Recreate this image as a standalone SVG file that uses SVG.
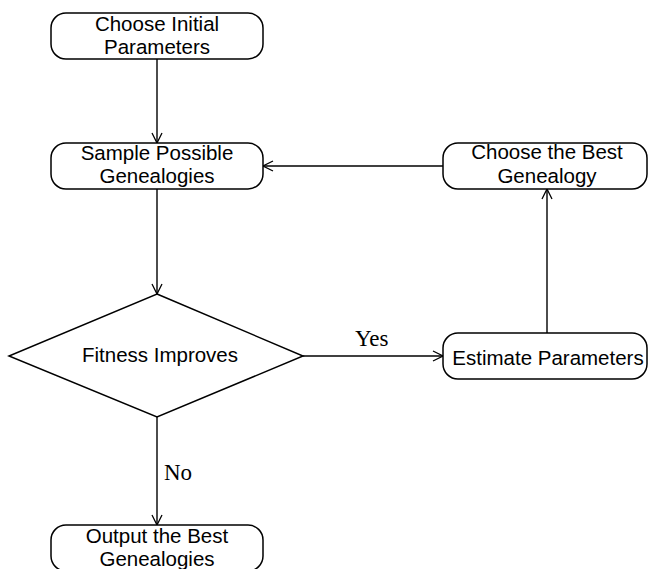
<svg xmlns="http://www.w3.org/2000/svg" width="649" height="569" viewBox="0 0 649 569">
  <defs>
    <marker id="open" markerWidth="12" markerHeight="12" refX="11" refY="6" orient="auto" markerUnits="userSpaceOnUse">
      <path d="M1,1 L11,6 L1,11" fill="none" stroke="#000" stroke-width="1.3"/>
    </marker>
  </defs>
  <style>
    .box { fill: #fff; stroke: #000; stroke-width: 1.5; }
    .lbl { font-family: "Liberation Sans", Arial, sans-serif; font-size: 20.5px; fill: #000; text-anchor: middle; }
    .edge { fill: none; stroke: #000; stroke-width: 1.4; marker-end: url(#open); }
    .elbl { font-family: "Liberation Serif", "Times New Roman", serif; font-size: 23px; fill: #000; }
  </style>
  <rect width="649" height="569" fill="#fff"/>

  <g id="connectors">
    <line class="edge" x1="157" y1="59" x2="157" y2="143"/>
    <line class="edge" x1="157" y1="189" x2="157" y2="294"/>
    <line class="edge" x1="303" y1="356" x2="443" y2="356"/>
    <line class="edge" x1="547" y1="333" x2="547" y2="189"/>
    <line class="edge" x1="443" y1="166" x2="263" y2="166"/>
    <line class="edge" x1="157" y1="417" x2="157" y2="525"/>
    <text class="elbl" x="355" y="346">Yes</text>
    <text class="elbl" x="164" y="480">No</text>
  </g>

  <g id="choose-initial">
    <rect class="box" x="51" y="13" width="212" height="46" rx="15"/>
    <text class="lbl" x="157" y="31">Choose Initial</text>
    <text class="lbl" x="157" y="54">Parameters</text>
  </g>

  <g id="sample">
    <rect class="box" x="51" y="143" width="212" height="46" rx="15"/>
    <text class="lbl" x="157" y="160">Sample Possible</text>
    <text class="lbl" x="157" y="183">Genealogies</text>
  </g>

  <g id="choose-best">
    <rect class="box" x="443" y="143" width="204" height="46" rx="15"/>
    <text class="lbl" x="547" y="159">Choose the Best</text>
    <text class="lbl" x="547" y="183">Genealogy</text>
  </g>

  <g id="fitness">
    <polygon class="box" points="157,294 303,356 157,417 9,356"/>
    <text class="lbl" x="160" y="362">Fitness Improves</text>
  </g>

  <g id="estimate">
    <rect class="box" x="443" y="333" width="204" height="46" rx="15"/>
    <text class="lbl" x="548" y="365">Estimate Parameters</text>
  </g>

  <g id="output">
    <rect class="box" x="51" y="525" width="212" height="46" rx="15"/>
    <text class="lbl" x="157" y="543">Output the Best</text>
    <text class="lbl" x="157" y="566">Genealogies</text>
  </g>
</svg>
